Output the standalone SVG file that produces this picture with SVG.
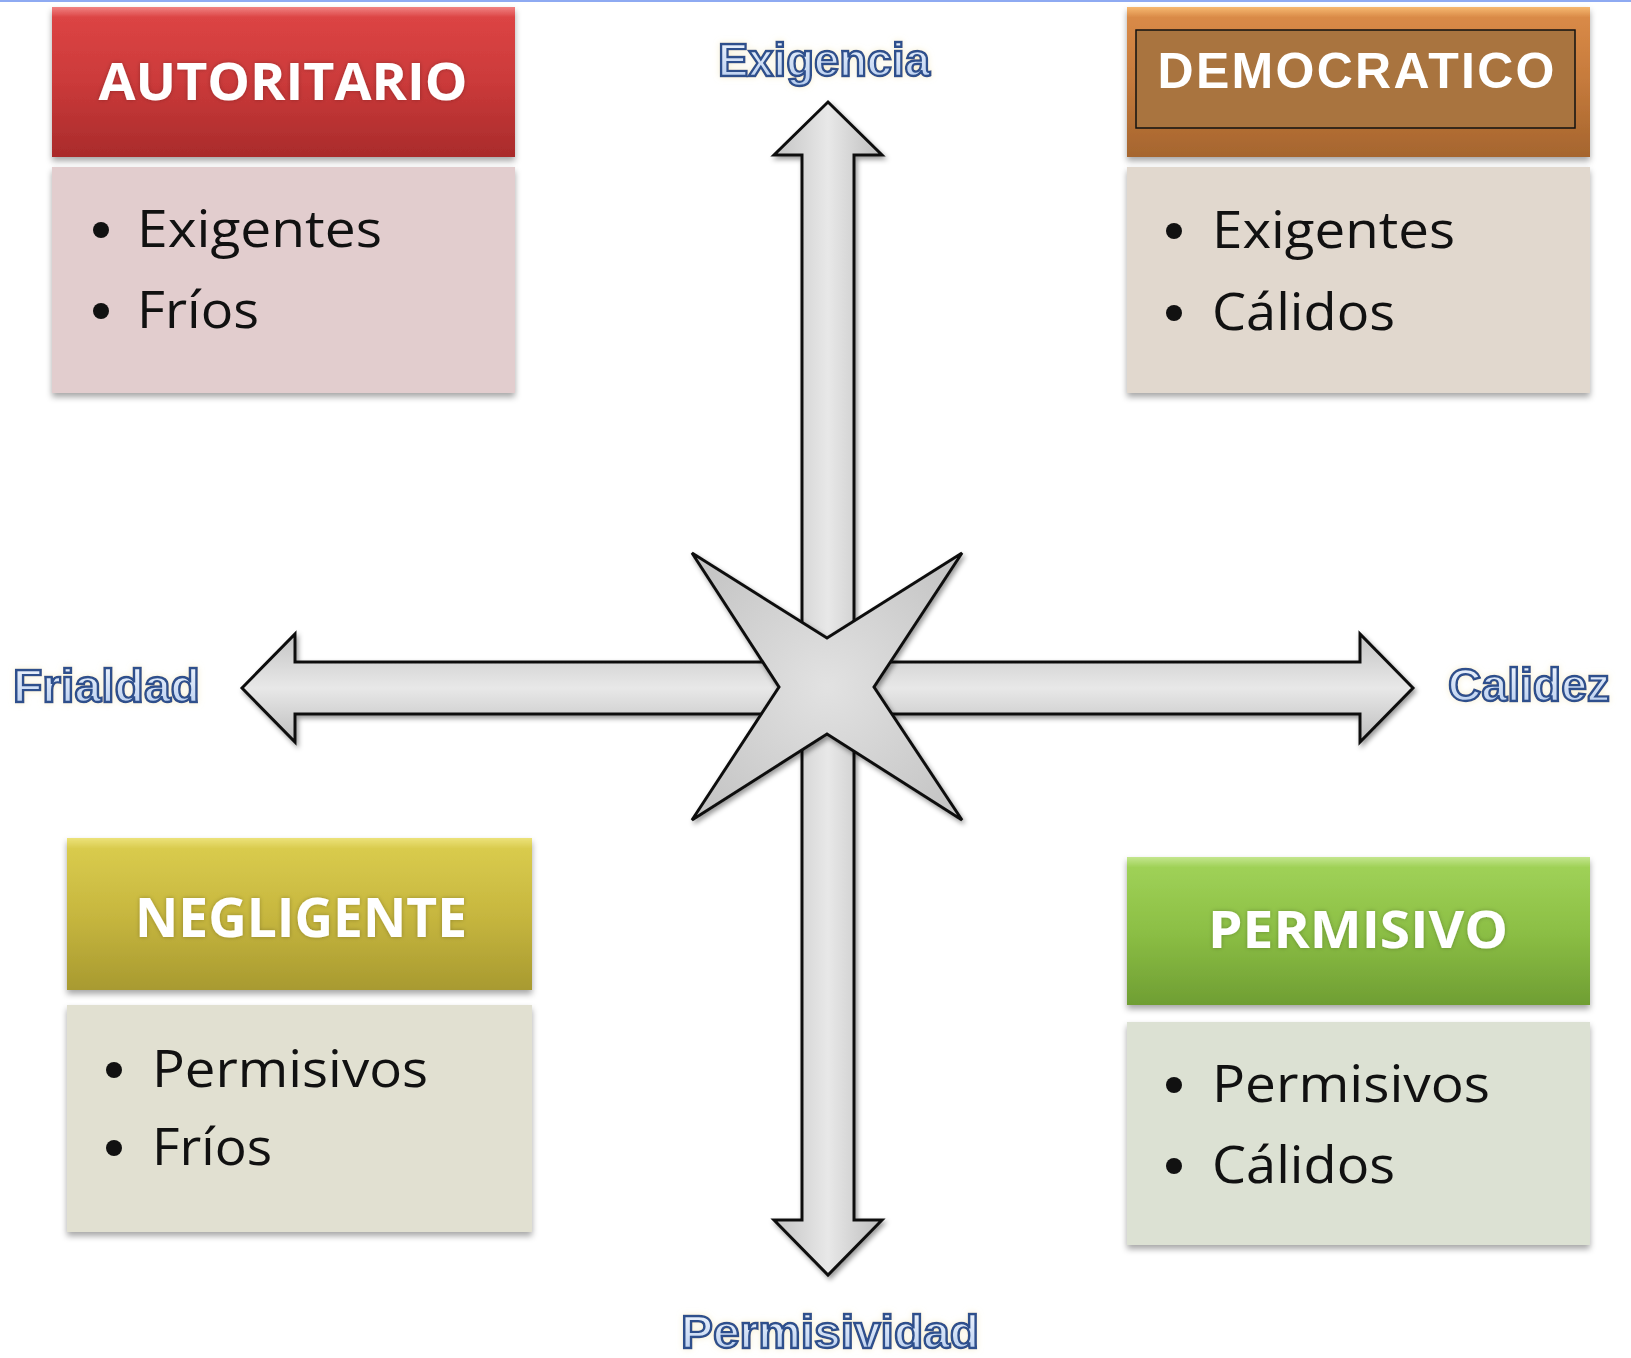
<svg xmlns="http://www.w3.org/2000/svg" width="1631" height="1358" viewBox="0 0 1631 1358">
<style>
.hdr{font-family:"Open Sans","Liberation Sans",sans-serif;font-weight:700;fill:#ffffff;text-anchor:middle}
.body{font-family:"Open Sans","Liberation Sans",sans-serif;font-size:52px;fill:#111111}
.axis{font-family:"Liberation Sans","DejaVu Sans",sans-serif;font-weight:700;font-size:46px;fill:url(#gAxis);stroke:#2d4f8c;stroke-width:2.4}
.arrow{stroke:#111;stroke-width:3;stroke-linejoin:miter}
</style>
<defs>
<filter id="sh" x="-10%" y="-10%" width="120%" height="130%">
<feDropShadow dx="0" dy="4" stdDeviation="3" flood-color="#000" flood-opacity="0.35"/>
</filter>
<filter id="ash" x="-10%" y="-10%" width="120%" height="120%">
<feDropShadow dx="2" dy="3" stdDeviation="2.5" flood-color="#000" flood-opacity="0.4"/>
</filter>
<filter id="glow" x="-10%" y="-20%" width="120%" height="140%">
<feGaussianBlur in="SourceAlpha" stdDeviation="3" result="b"/>
<feFlood flood-color="#f4ecc8" flood-opacity="0.8"/>
<feComposite in2="b" operator="in" result="g"/>
<feMerge><feMergeNode in="g"/><feMergeNode in="SourceGraphic"/></feMerge>
</filter>
<filter id="tglow" x="-10%" y="-20%" width="120%" height="140%">
<feGaussianBlur in="SourceAlpha" stdDeviation="2" result="b"/>
<feFlood flood-color="#000" flood-opacity="0.25"/>
<feComposite in2="b" operator="in" result="g"/>
<feMerge><feMergeNode in="g"/><feMergeNode in="SourceGraphic"/></feMerge>
</filter>
<linearGradient id="gAxis" x1="0" y1="0" x2="0" y2="1">
<stop offset="0" stop-color="#f4f8fe"/><stop offset="1" stop-color="#b4cbee"/>
</linearGradient>
<linearGradient id="gRed" x1="0" y1="0" x2="0" y2="1">
<stop offset="0" stop-color="#f08282"/><stop offset="0.07" stop-color="#dc4444"/><stop offset="0.5" stop-color="#cb3a3a"/><stop offset="1" stop-color="#a92b2b"/>
</linearGradient>
<linearGradient id="gOrange" x1="0" y1="0" x2="0" y2="1">
<stop offset="0" stop-color="#f6b870"/><stop offset="0.07" stop-color="#d98a47"/><stop offset="0.5" stop-color="#c57a3c"/><stop offset="1" stop-color="#a5652e"/>
</linearGradient>
<linearGradient id="gYellow" x1="0" y1="0" x2="0" y2="1">
<stop offset="0" stop-color="#ece27a"/><stop offset="0.07" stop-color="#d9cb4d"/><stop offset="0.5" stop-color="#c7b73f"/><stop offset="1" stop-color="#a89a30"/>
</linearGradient>
<linearGradient id="gGreen" x1="0" y1="0" x2="0" y2="1">
<stop offset="0" stop-color="#c4e68e"/><stop offset="0.07" stop-color="#9fd157"/><stop offset="0.5" stop-color="#8cbf45"/><stop offset="1" stop-color="#6f9e33"/>
</linearGradient>
<linearGradient id="gV" x1="0" y1="0" x2="1" y2="0">
<stop offset="0" stop-color="#c4c4c4"/><stop offset="0.5" stop-color="#e8e8e8"/><stop offset="1" stop-color="#bdbdbd"/>
</linearGradient>
<linearGradient id="gH" x1="0" y1="0" x2="0" y2="1">
<stop offset="0" stop-color="#c4c4c4"/><stop offset="0.5" stop-color="#e8e8e8"/><stop offset="1" stop-color="#bdbdbd"/>
</linearGradient>
<radialGradient id="gStar" cx="0.5" cy="0.5" r="0.6">
<stop offset="0" stop-color="#e2e2e2"/><stop offset="1" stop-color="#c6c6c6"/>
</radialGradient>
</defs>

<rect x="0" y="0" width="1631" height="1358" fill="#ffffff"/>
<rect x="0" y="0" width="1631" height="2" fill="#8eaaf2"/>

<g id="connectors">
<polygon class="arrow" fill="url(#gV)" filter="url(#ash)" points="828,102 882,155 854,155 854,1220 882,1220 828,1275 774,1220 802,1220 802,155 774,155"/>
<polygon class="arrow" fill="url(#gH)" filter="url(#ash)" points="242,688 295,634 295,662 1360,662 1360,634 1413,688 1360,742 1360,714 295,714 295,742"/>
</g>

<g id="star">
<polygon class="arrow" fill="url(#gStar)" filter="url(#ash)" points="692,553 827,638 962,553 874,687 962,820 827,734 692,820 779,687"/>
</g>

<g id="label-exigencia" filter="url(#glow)"><text class="axis" x="718" y="76" textLength="212" lengthAdjust="spacingAndGlyphs">Exigencia</text></g>
<g id="label-frialdad" filter="url(#glow)"><text class="axis" x="13" y="702" textLength="187" lengthAdjust="spacingAndGlyphs">Frialdad</text></g>
<g id="label-calidez" filter="url(#glow)"><text class="axis" x="1448" y="701" textLength="162" lengthAdjust="spacingAndGlyphs">Calidez</text></g>
<g id="label-permisividad" filter="url(#glow)"><text class="axis" x="681" y="1348" textLength="298" lengthAdjust="spacingAndGlyphs">Permisividad</text></g>

<g id="autoritario">
<rect x="52" y="7" width="463" height="150" fill="url(#gRed)" filter="url(#sh)"/>
<text class="hdr" x="283" y="100" font-size="52" textLength="369" lengthAdjust="spacingAndGlyphs" filter="url(#tglow)">AUTORITARIO</text>
<rect x="52" y="167" width="463" height="226" fill="#e2cdce" filter="url(#sh)"/>
<circle cx="101" cy="230" r="8" fill="#111"/>
<text class="body" x="137" y="247" textLength="245" lengthAdjust="spacingAndGlyphs">Exigentes</text>
<circle cx="101" cy="311" r="8" fill="#111"/>
<text class="body" x="137" y="328" textLength="122" lengthAdjust="spacingAndGlyphs">Fríos</text>
</g>

<g id="democratico">
<rect x="1127" y="7" width="463" height="150" fill="url(#gOrange)" filter="url(#sh)"/>
<rect x="1136" y="30" width="439" height="98" fill="#a9743f" stroke="#111" stroke-width="1.5"/>
<text x="1356" y="88" font-family="Liberation Sans, Arial, sans-serif" font-weight="700" font-size="50" fill="#ffffff" text-anchor="middle" textLength="397" lengthAdjust="spacing">DEMOCRATICO</text>
<rect x="1127" y="167" width="463" height="226" fill="#e1d8ce" filter="url(#sh)"/>
<circle cx="1174" cy="231" r="8" fill="#111"/>
<text class="body" x="1212" y="248" textLength="243" lengthAdjust="spacingAndGlyphs">Exigentes</text>
<circle cx="1174" cy="313" r="8" fill="#111"/>
<text class="body" x="1212" y="330" textLength="183" lengthAdjust="spacingAndGlyphs">Cálidos</text>
</g>

<g id="negligente">
<rect x="67" y="838" width="465" height="152" fill="url(#gYellow)" filter="url(#sh)"/>
<text class="hdr" x="301" y="937" font-size="54" textLength="332" lengthAdjust="spacingAndGlyphs" filter="url(#tglow)">NEGLIGENTE</text>
<rect x="67" y="1005" width="465" height="227" fill="#e1e0d1" filter="url(#sh)"/>
<circle cx="114" cy="1070" r="8" fill="#111"/>
<text class="body" x="152" y="1087" textLength="276" lengthAdjust="spacingAndGlyphs">Permisivos</text>
<circle cx="114" cy="1148" r="8" fill="#111"/>
<text class="body" x="152" y="1165" textLength="120" lengthAdjust="spacingAndGlyphs">Fríos</text>
</g>

<g id="permisivo">
<rect x="1127" y="857" width="463" height="148" fill="url(#gGreen)" filter="url(#sh)"/>
<text class="hdr" x="1358" y="948" font-size="52" textLength="300" lengthAdjust="spacingAndGlyphs" filter="url(#tglow)">PERMISIVO</text>
<rect x="1127" y="1022" width="463" height="223" fill="#dce1d3" filter="url(#sh)"/>
<circle cx="1174" cy="1085" r="8" fill="#111"/>
<text class="body" x="1212" y="1102" textLength="278" lengthAdjust="spacingAndGlyphs">Permisivos</text>
<circle cx="1174" cy="1166" r="8" fill="#111"/>
<text class="body" x="1212" y="1183" textLength="183" lengthAdjust="spacingAndGlyphs">Cálidos</text>
</g>
</svg>
